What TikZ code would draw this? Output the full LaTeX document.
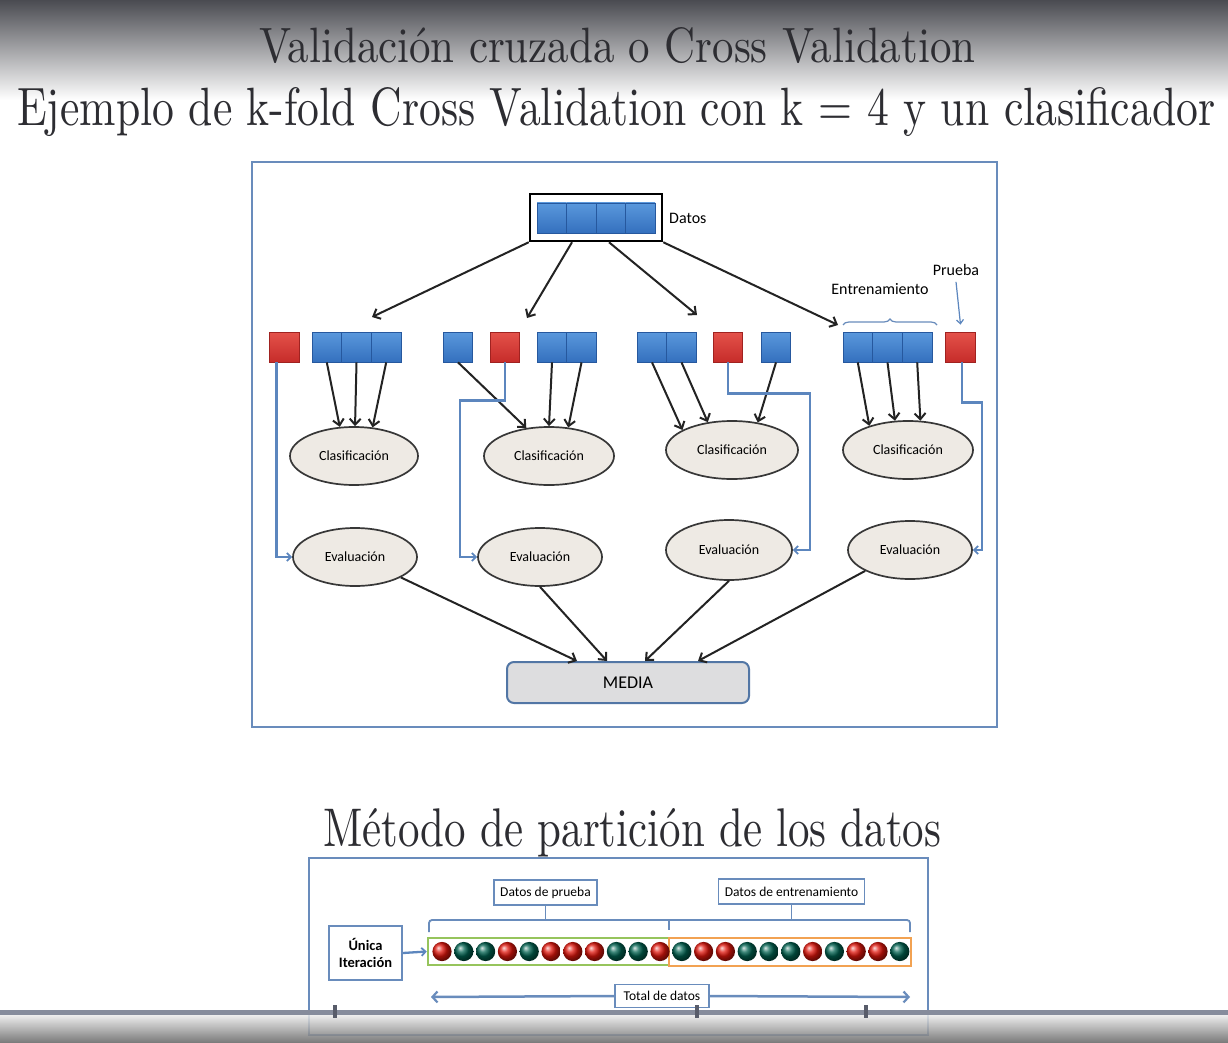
\documentclass[tikz,border=0pt]{standalone}
\usepackage{fontspec}
\usepackage{graphicx}
\usetikzlibrary{shapes.geometric,arrows.meta,decorations.pathreplacing,calc}
\newfontfamily\lbl{Carlito}
\definecolor{topgray}{RGB}{74,75,81}
\definecolor{titlecol}{RGB}{45,45,50}
\definecolor{steel}{RGB}{105,140,188}
\definecolor{steeldark}{RGB}{82,118,165}
\definecolor{linkblue}{RGB}{92,134,190}
\definecolor{sqtop}{RGB}{90,152,220}
\definecolor{sqbot}{RGB}{52,112,190}
\definecolor{sqedge}{RGB}{38,88,158}
\definecolor{rdtop}{RGB}{228,82,74}
\definecolor{rdbot}{RGB}{198,44,42}
\definecolor{rdedge}{RGB}{160,34,32}
\definecolor{ellfill}{RGB}{238,234,228}
\definecolor{ellline}{RGB}{55,55,55}
\definecolor{arrblack}{RGB}{35,35,35}
\definecolor{mediafill}{RGB}{221,221,223}
\definecolor{ballr}{RGB}{225,22,12}
\definecolor{ballg}{RGB}{0,98,80}
\definecolor{okgreen}{RGB}{150,196,92}
\definecolor{okorange}{RGB}{242,162,82}
\definecolor{bandgray}{RGB}{134,140,156}
\definecolor{tickgray}{RGB}{88,92,106}
\begin{document}
\begin{tikzpicture}[x=1pt,y=-1pt,
  title/.style={inner sep=0, text=titlecol, anchor=base west},
  bsq/.style={rectangle, inner sep=0, minimum width=29.5pt, minimum height=30pt,
    draw=sqedge, line width=0.8pt, top color=sqtop, bottom color=sqbot},
  rsq/.style={rectangle, inner sep=0, minimum width=29.5pt, minimum height=30pt,
    draw=rdedge, line width=0.8pt, top color=rdtop, bottom color=rdbot},
  ell/.style={ellipse, draw=ellline, fill=ellfill, line width=1.7pt, inner sep=0,
    minimum height=58pt, text=black, font=\lbl\fontsize{14}{16}\selectfont},
  lab/.style={inner sep=0, font=\lbl\fontsize{16}{18}\selectfont, text=black},
  arr/.style={draw=arrblack, line width=2pt,
    -{Straight Barb[length=6pt,width=11pt,line width=2pt]}},
  barr/.style={draw=linkblue, line width=2.3pt,
    -{Straight Barb[length=4pt,width=8pt,line width=1.8pt]}},
  wbox/.style={rectangle, draw=steel, fill=white, line width=1.8pt, inner sep=0,
    text=black, font=\lbl\fontsize{13.5}{16}\selectfont},
  bline/.style={draw=steel, line width=1.8pt}]
\useasboundingbox (0,0) rectangle (1228,1043);
\fill[white] (0,0) rectangle (1228,1043);
\shade[top color=topgray, bottom color=white] (0,0) rectangle (1228,100);

% titles
\node[title] (t1) at (259,63) {\resizebox{716pt}{35pt}{Validación cruzada o Cross Validation}};
\node[title] (t2) at (17,126) {\resizebox{1198pt}{38pt}{Ejemplo de k-fold Cross Validation con k = 4 y un clasificador}};

% upper frame
\draw[steel, line width=2.5pt, fill=white] (252,162) rectangle (997,727);

% full data set
\node[draw=black, line width=2.5pt, inner sep=0, minimum width=132pt, minimum height=47pt] (D) at (596,217.5) {};
\node[bsq] (d1) at (551.75,218) {};
\node[bsq] (d2) at (581.25,218) {};
\node[bsq] (d3) at (610.75,218) {};
\node[bsq] (d4) at (640.25,218) {};
\node[lab, anchor=west] (dl) at (669,218) {Datos};

% folds
\node[rsq] (r1) at (284.5,347) {};
\node[bsq] (b1a) at (326.8,347) {};
\node[bsq] (b1b) at (356.5,347) {};
\node[bsq] (b1c) at (386.2,347) {};

\node[bsq] (b2a) at (458,347) {};
\node[rsq] (r2) at (505,347) {};
\node[bsq] (b2b) at (552,347) {};
\node[bsq] (b2c) at (581.5,347) {};

\node[bsq] (b3a) at (652,347) {};
\node[bsq] (b3b) at (681.5,347) {};
\node[rsq] (r3) at (728,347) {};
\node[bsq] (b3c) at (776,347) {};

\node[bsq] (b4a) at (857.8,347) {};
\node[bsq] (b4b) at (887.5,347) {};
\node[bsq] (b4c) at (917.2,347) {};
\node[rsq] (r4) at (960.5,347) {};

% fold labels
\node[lab] (ent) at (880,289) {Entrenamiento};
\node[lab] (pru) at (956,270) {Prueba};
\draw[steel, line width=1.2pt, decorate, decoration={brace, amplitude=6pt}]
  (843,325) -- (937,325);
\draw[draw=linkblue, line width=1.2pt, -{Straight Barb[length=4pt,width=7pt,line width=1.2pt]}]
  ([yshift=-6pt]pru.south) -- ([yshift=7pt]r4.north);

% split arrows
\coordinate (s1) at (372,317);
\coordinate (s2) at (527,318);
\coordinate (s3) at (697,315);
\coordinate (s4) at (838,325);
\draw[arr] (D.south west) -- (s1);
\draw[arr] ([xshift=-24pt]D.south) -- (s2);
\draw[arr] ([xshift=13pt]D.south) -- (s3);
\draw[arr] (D.south east) -- (s4);

% classifiers and evaluations
\node[ell, minimum width=128pt] (c1) at (354,456) {Clasificación};
\node[ell, minimum width=130pt] (c2) at (549,456) {Clasificación};
\node[ell, minimum width=132pt] (c3) at (732,450) {Clasificación};
\node[ell, minimum width=130pt] (c4) at (908,450) {Clasificación};
\node[ell, minimum width=124pt] (e1) at (355,557) {Evaluación};
\node[ell, minimum width=124pt] (e2) at (540,557) {Evaluación};
\node[ell, minimum width=126pt, minimum height=60pt] (e3) at (729,550) {Evaluación};
\node[ell, minimum width=124pt] (e4) at (910,550) {Evaluación};

% training folds into classifiers
\draw[arr] (b1a.south) -- (c1.116);
\draw[arr] (b1b.south) -- (c1.88);
\draw[arr] (b1c.south) -- (c1.57);
\draw[arr] (b2a.south) -- (c2.129);
\draw[arr] (b2b.south) -- (c2.90);
\draw[arr] (b2c.south) -- (c2.56);
\draw[arr] (b3a.south) -- (c3.158);
\draw[arr] (b3b.south) -- (c3.131);
\draw[arr] (b3c.south) -- (c3.47);
\draw[arr] (b4a.south) -- (c4.148);
\draw[arr] (b4b.south) -- (c4.114);
\draw[arr] (b4c.south) -- (c4.67);

% test folds into evaluations
\draw[barr] ([xshift=-8pt]r1.south) |- (e1.west);
\draw[barr] (r2.south) -- ++(0,38) -- ++(-45,0) |- (e2.west);
\draw[barr] (r3.south) -- ++(0,31) -- ++(82,0) |- (e3.east);
\draw[barr] ([xshift=1.5pt]r4.south) -- ++(0,40) -- ++(20,0) |- (e4.east);

% mean
\node[rectangle, rounded corners=7pt, draw=steeldark, fill=mediafill, line width=2pt,
  minimum width=242pt, minimum height=41pt, inner sep=0, text=black,
  font=\lbl\fontsize{18}{20}\selectfont] (M) at (628,682.5) {MEDIA};
\draw[arr] (e1.-24) -- ([xshift=-51pt]M.north);
\draw[arr] (e2.south) -- ([xshift=-21pt]M.north);
\draw[arr] (e3.south) -- ([xshift=17pt]M.north);
\draw[arr] (e4.205) -- ([xshift=70pt]M.north);

% lower part: hold-out split
\draw[steel, line width=2.5pt, fill=white] (309,858) rectangle (928,1035);
\node[title] (t3) at (323,846) {\resizebox{618pt}{38pt}{Método de partición de los datos}};

\node[wbox, minimum width=103pt, minimum height=25pt] (dp) at (545.5,892.5) {Datos de prueba};
\node[wbox, minimum width=146pt, minimum height=25pt] (de) at (791.5,891.5) {Datos de entrenamiento};
\coordinate (bl) at (429,920);
\coordinate (bm) at (669,920);
\coordinate (br) at (910,920);
\draw[bline, rounded corners=3pt] ([yshift=-12pt]bl) -- (bl) -- (br) -- ([yshift=-12pt]br);
\draw[bline] (bm) -- ([yshift=-10pt]bm);
\draw[bline] (dp.south) -- (dp.south |- bl);
\draw[bline] (de.south) -- (de.south |- bl);

\node[wbox, minimum width=73pt, minimum height=54pt, align=center,
  font=\lbl\bfseries\fontsize{14.5}{17}\selectfont] (it) at (365.5,953) {Única\\Iteración};

\node[rectangle, draw=okgreen, line width=2.5pt, inner sep=0, minimum width=241pt, minimum height=27pt] (gb) at (548.5,951.5) {};
\node[rectangle, draw=okorange, line width=2.5pt, inner sep=0, minimum width=242pt, minimum height=28pt] (ob) at (790,952) {};
\draw[barr] (it.east) -- (gb.west);

\foreach \c [count=\i from 0] in {r,g,g,r,g,r,r,r,g,g,r,g,r,r,g,g,g,r,g,r,r,g}
  \shade[ball color=ball\c] (442+21.8*\i,951.5) circle (9.6pt);

% total extent
\node[wbox, minimum width=94pt, minimum height=23pt] (tot) at (662,996) {Total de datos};
\coordinate (tl) at (431,997);
\coordinate (tr) at (910,997);
\draw[draw=steel, line width=2.5pt, -{Straight Barb[length=5pt,width=11pt,line width=2.2pt]}] (tot.west) -- (tl);
\draw[draw=steel, line width=2.5pt, -{Straight Barb[length=5pt,width=11pt,line width=2.2pt]}] (tot.east) -- (tr);

% player bar across the bottom
\shade[top color=white!92!black, bottom color=black!62, opacity=0.85] (0,1015) rectangle (1228,1043);
\fill[bandgray] (0,1010) rectangle (1228,1015);
\foreach \tx in {335,697,866}
  \fill[tickgray] (\tx-2,1005) rectangle (\tx+2,1018);
\end{tikzpicture}
\end{document}
